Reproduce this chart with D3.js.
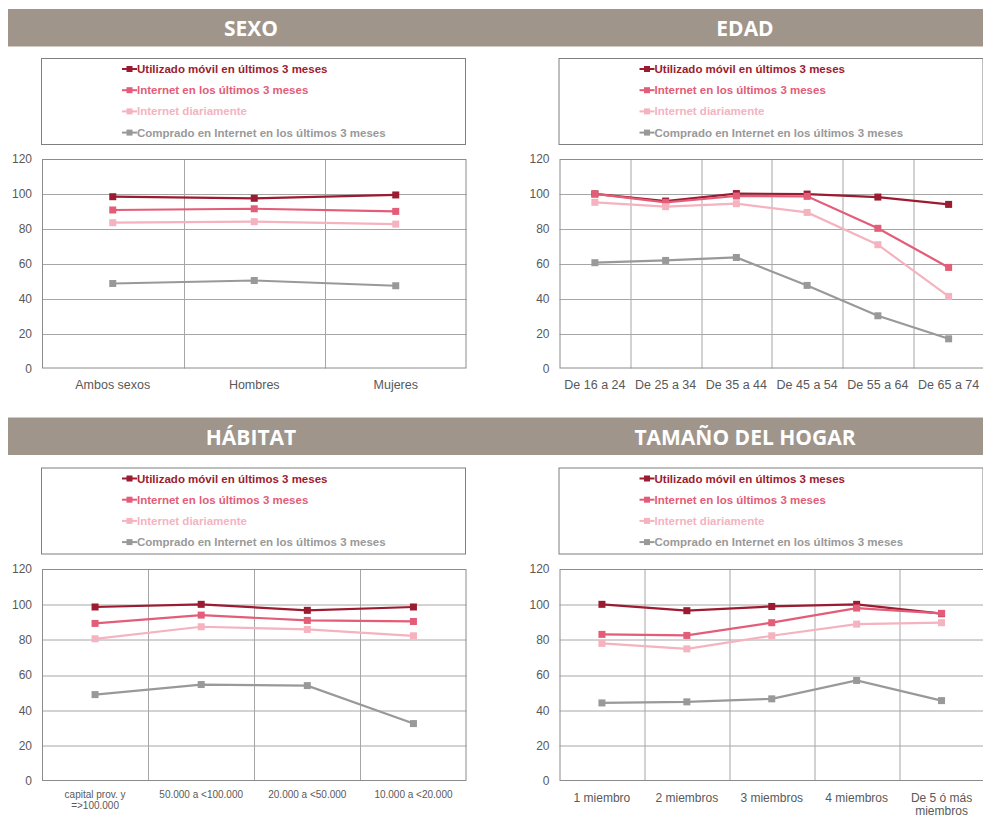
<!DOCTYPE html>
<html>
<head>
<meta charset="utf-8">
<script src="https://cdn.jsdelivr.net/npm/d3@7"></script>
<style>
  body { margin: 0; background: #fff; }
  svg { display: block; }
</style>
</head>
<body>
<script>
const seriesNames = [
  "Utilizado móvil en últimos 3 meses",
  "Internet en los últimos 3 meses",
  "Internet diariamente",
  "Comprado en Internet en los últimos 3 meses"
];
const seriesColors = ["#9b1b30", "#e35c78", "#f4b3bf", "#999999"];
const yTicks = [0, 20, 40, 60, 80, 100, 120];

const sexoCats = ["Ambos sexos", "Hombres", "Mujeres"];
const sexoMovil = [98.4, 97.5, 99.4];
const sexoInternet = [90.8, 91.5, 90.0];
const sexoDiario = [83.5, 84.1, 82.7];
const sexoCompra = [48.7, 50.4, 47.4];

const edadCats = ["De 16 a 24", "De 25 a 34", "De 35 a 44", "De 45 a 54", "De 55 a 64", "De 65 a 74"];
const edadMovil = [100, 95.9, 100.2, 99.9, 98.2, 94.0];
const edadInternet = [100, 95.2, 98.8, 98.6, 80.3, 57.9];
const edadDiario = [95.2, 92.7, 94.4, 89.4, 70.9, 41.3];
const edadCompra = [60.6, 61.9, 63.6, 47.6, 30.2, 17.0];

const habitatCats = ["capital prov. y =>100.000", "50.000 a <100.000", "20.000 a <50.000", "10.000 a <20.000"];
const habitatMovil = [98.5, 100, 96.6, 98.5];
const habitatInternet = [89.2, 93.9, 90.9, 90.3];
const habitatDiario = [80.5, 87.3, 85.8, 82.2];
const habitatCompra = [48.9, 54.6, 54.0, 32.5];

const hogarCats = ["1 miembro", "2 miembros", "3 miembros", "4 miembros", "De 5 ó más miembros"];
const hogarMovil = [100, 96.4, 98.8, 100, 94.7];
const hogarInternet = [83.0, 82.4, 89.6, 97.9, 94.9];
const hogarDiario = [77.9, 74.8, 82.2, 88.8, 89.6];
const hogarCompra = [44.2, 44.8, 46.5, 56.9, 45.5];

const panels = [
  { title: "SEXO", cats: sexoCats, values: [sexoMovil, sexoInternet, sexoDiario, sexoCompra],
    ox: 0, oy: 0, titleX: 251, catFont: 12.5, plotTop: 159, plotBottom: 368.5 },
  { title: "EDAD", cats: edadCats, values: [edadMovil, edadInternet, edadDiario, edadCompra],
    ox: 517.5, oy: 0, titleX: 745, catFont: 12.5, plotTop: 159, plotBottom: 368.5 },
  { title: "HÁBITAT", cats: habitatCats, values: [habitatMovil, habitatInternet, habitatDiario, habitatCompra],
    ox: 0, oy: 409.5, titleX: 251, catFont: 10, plotTop: 159.5, plotBottom: 371.5 },
  { title: "TAMAÑO DEL HOGAR", cats: hogarCats, values: [hogarMovil, hogarInternet, hogarDiario, hogarCompra],
    ox: 517.5, oy: 409.5, titleX: 745, catFont: 12, plotTop: 159.5, plotBottom: 371.5 }
];

const width = 983, height = 818;
const svg = d3.select("body").append("svg")
  .attr("width", width)
  .attr("height", height)
  .style("font-family", "'Liberation Sans', Arial, sans-serif");

// title bands (continuous across both columns)
[9, 417.5].forEach(y => {
  svg.append("rect")
    .attr("x", 8).attr("y", y)
    .attr("width", width - 8).attr("height", 37.5)
    .attr("fill", "#a0958a");
});

function wrapLabel(textSel, maxWidth) {
  textSel.each(function () {
    const text = d3.select(this);
    const words = text.text().split(/\s+/);
    const dy = parseFloat(text.attr("dy")) || 0;
    const y = text.attr("y");
    text.text(null);
    let line = [];
    let lineNo = 0;
    let tspan = text.append("tspan").attr("x", 0).attr("y", y).attr("dy", dy + "em");
    words.forEach(w => {
      line.push(w);
      tspan.text(line.join(" "));
      if (tspan.node().getComputedTextLength() > maxWidth && line.length > 1) {
        line.pop();
        tspan.text(line.join(" "));
        line = [w];
        lineNo++;
        tspan = text.append("tspan").attr("x", 0).attr("y", y)
          .attr("dy", (dy + lineNo * 1.1) + "em").text(w);
      }
    });
  });
}

function drawPanel(p) {
  const g = svg.append("g").attr("transform", `translate(${p.ox},${p.oy})`);

  g.append("text")
    .attr("x", p.titleX - p.ox).attr("y", 35.5)
    .attr("text-anchor", "middle")
    .attr("fill", "#fff")
    .style("font-family", "'Open Sans', sans-serif")
    .style("font-weight", "bold")
    .style("font-size", "21px")
    .text(p.title);

  // legend
  const lg = g.append("g").attr("transform", "translate(41,58)");
  lg.append("rect")
    .attr("x", 0.5).attr("y", 0.5)
    .attr("width", 424).attr("height", 86)
    .attr("fill", "#fff")
    .attr("stroke", "#7f7f7f");
  const item = lg.selectAll(".item")
    .data(seriesNames)
    .enter().append("g")
    .attr("transform", (d, i) => `translate(81,${11 + i * 21.2})`);
  item.append("line")
    .attr("x1", 0).attr("x2", 15)
    .attr("stroke", (d, i) => seriesColors[i])
    .attr("stroke-width", 2);
  item.append("rect")
    .attr("x", 4.5).attr("y", -3).attr("width", 6).attr("height", 6)
    .attr("fill", (d, i) => seriesColors[i]);
  item.append("text")
    .attr("x", 15).attr("dy", "0.35em")
    .attr("fill", (d, i) => seriesColors[i])
    .style("font-size", "11.5px")
    .style("font-weight", "bold")
    .text(d => d);

  // plot
  const left = 42, right = 466.5, top = p.plotTop, bottom = p.plotBottom;
  const x = d3.scaleBand().domain(p.cats).range([left, right]);
  const y = d3.scaleLinear().domain([0, 120]).range([bottom, top]);

  g.append("g")
    .selectAll("line")
    .data(yTicks.slice(1, -1))
    .enter().append("line")
    .attr("x1", left).attr("x2", right)
    .attr("y1", d => Math.round(y(d)) + 0.5).attr("y2", d => Math.round(y(d)) + 0.5)
    .attr("stroke", "#a6a6a6");

  g.append("g")
    .selectAll("line")
    .data(p.cats.slice(1))
    .enter().append("line")
    .attr("x1", d => Math.round(x(d)) + 0.5).attr("x2", d => Math.round(x(d)) + 0.5)
    .attr("y1", top).attr("y2", bottom)
    .attr("stroke", "#a6a6a6");

  g.append("rect")
    .attr("x", left + 0.5).attr("y", top + 0.5)
    .attr("width", right - left - 1).attr("height", bottom - top - 1)
    .attr("fill", "none")
    .attr("stroke", "#8c8c8c");

  const yAxis = g.append("g")
    .attr("transform", `translate(${left},0)`)
    .call(d3.axisLeft(y).tickValues(yTicks).tickSize(0).tickPadding(10));
  yAxis.select(".domain").remove();
  yAxis.selectAll("text")
    .attr("fill", "#595959")
    .style("font-size", "12px")
    .style("font-family", "'Liberation Sans', Arial, sans-serif");

  const xAxis = g.append("g")
    .attr("transform", `translate(0,${bottom})`)
    .call(d3.axisBottom(x).tickSize(0).tickPadding(p.catFont === 10 ? 10 : 12));
  xAxis.select(".domain").remove();
  xAxis.selectAll("text")
    .attr("fill", "#595959")
    .style("font-size", p.catFont + "px")
    .style("font-family", "'Liberation Sans', Arial, sans-serif")
    .call(wrapLabel, x.bandwidth() * 0.9);

  const line = d3.line()
    .x((d, i) => x(p.cats[i]) + x.bandwidth() / 2)
    .y(d => y(d));

  p.values.forEach((vals, si) => {
    g.append("path")
      .datum(vals)
      .attr("fill", "none")
      .attr("stroke", seriesColors[si])
      .attr("stroke-width", 2.2)
      .attr("d", line);
    g.append("g")
      .selectAll("rect")
      .data(vals)
      .enter().append("rect")
      .attr("x", (d, i) => x(p.cats[i]) + x.bandwidth() / 2 - 3.5)
      .attr("y", d => y(d) - 3.5)
      .attr("width", 7).attr("height", 7)
      .attr("fill", seriesColors[si]);
  });
}

panels.forEach(drawPanel);
</script>
</body>
</html>
